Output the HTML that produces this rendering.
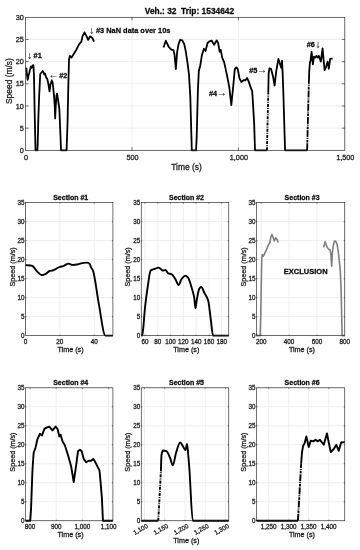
<!DOCTYPE html>
<html><head><meta charset="utf-8"><title>Veh.: 32 Trip: 1534642</title>
<style>
html,body{margin:0;padding:0;background:#fff;}
svg{display:block;font-family:"Liberation Sans",sans-serif;fill:#1a1a1a;}
svg text{stroke:#1a1a1a;stroke-width:0.28px;}
svg text.ar{stroke:#222;stroke-width:0.12px;fill:#222;}
</style></head><body>
<svg width="360" height="550" viewBox="0 0 360 550">
<rect width="360" height="550" fill="#fff"/>
<line x1="25.60" y1="17.3" x2="25.60" y2="150.3" stroke="#eeeeee" stroke-width="1"/>
<line x1="132.00" y1="17.3" x2="132.00" y2="150.3" stroke="#eeeeee" stroke-width="1"/>
<line x1="238.40" y1="17.3" x2="238.40" y2="150.3" stroke="#eeeeee" stroke-width="1"/>
<line x1="344.80" y1="17.3" x2="344.80" y2="150.3" stroke="#eeeeee" stroke-width="1"/>
<line x1="25.6" y1="150.30" x2="344.8" y2="150.30" stroke="#eeeeee" stroke-width="1"/>
<line x1="25.6" y1="128.13" x2="344.8" y2="128.13" stroke="#eeeeee" stroke-width="1"/>
<line x1="25.6" y1="105.97" x2="344.8" y2="105.97" stroke="#eeeeee" stroke-width="1"/>
<line x1="25.6" y1="83.80" x2="344.8" y2="83.80" stroke="#eeeeee" stroke-width="1"/>
<line x1="25.6" y1="61.63" x2="344.8" y2="61.63" stroke="#eeeeee" stroke-width="1"/>
<line x1="25.6" y1="39.47" x2="344.8" y2="39.47" stroke="#eeeeee" stroke-width="1"/>
<line x1="25.6" y1="17.30" x2="344.8" y2="17.30" stroke="#eeeeee" stroke-width="1"/>
<clipPath id="c25_17"><rect x="24.6" y="16.3" width="321.2" height="135.5"/></clipPath>
<g clip-path="url(#c25_17)" fill="none" stroke="#000" stroke-width="1.8" stroke-linejoin="round" stroke-linecap="butt">
<polyline points="25.60,68.06 26.41,68.73 27.03,75.38 27.64,79.81 28.11,78.26 28.58,74.93 29.05,74.05 29.83,70.06 30.28,69.17 30.92,66.29 31.45,67.84 32.01,67.40 32.79,65.40 33.26,65.18 33.56,66.95 33.73,70.94 33.94,74.05 34.67,112.62 35.50,150.30 36.45,150.30 37.37,150.30 37.69,144.09 38.37,117.49 39.22,94.44 40.22,74.49 40.88,73.16 41.73,72.27 42.73,70.94 43.58,72.27 44.24,74.49 45.09,73.60 46.09,77.59 47.18,78.48 48.45,84.24 49.54,91.34 50.54,84.24 51.80,80.25 52.65,82.47 53.90,94.44 54.75,105.97 55.16,118.38 55.58,109.07 56.41,95.77 57.09,93.55 58.09,100.20 59.37,109.07 60.20,129.46 61.03,150.30 66.56,150.30 67.52,123.70 68.27,88.23 69.01,59.42 69.86,55.87 71.35,57.64 73.91,53.65 76.37,49.66 78.80,44.79 81.35,41.68 82.63,35.92 84.55,32.37 86.38,35.92 88.16,39.91 90.08,36.36 92.12,37.69 94.12,41.68"/>
<polyline points="163.49,47.45 165.84,40.80 168.81,47.00 171.37,49.66 173.50,50.11 174.56,54.98 175.84,69.17 177.11,52.32 178.39,44.79 180.09,39.91 182.22,40.35 184.14,43.90 185.63,50.55 187.33,61.63 189.03,74.93 190.31,97.10 191.80,150.30 196.05,150.30 196.69,137.00 197.86,91.34 198.82,70.94 200.31,65.18 201.93,54.98 203.93,48.78 205.56,50.99 207.54,43.01 209.63,41.24 211.59,40.58 214.08,44.79 216.69,40.35 218.14,43.01 219.67,51.88 220.74,49.89 222.18,57.64 224.14,62.08 226.65,73.60 229.25,86.90 231.31,105.08 233.29,85.57 234.78,69.17 236.38,67.40 237.76,69.17 239.42,78.04 241.38,82.03 243.46,80.25 245.42,80.25 247.12,78.04 248.53,81.14 250.53,86.90 252.19,91.34 252.59,97.10 254.15,123.26 255.00,150.30 266.92,150.30"/>
<polyline points="266.92,150.30 268.30,92.67" stroke-dasharray="3 1.1 1 1.1"/>
<polyline points="268.30,92.67 268.62,73.60 269.47,68.28 271.17,69.17 273.09,76.71 274.58,85.57 276.28,70.94 278.41,58.97 280.11,64.29 281.17,67.84 282.02,60.75 282.66,73.60 283.30,91.34 285.05,150.30 307.13,150.30"/>
<polyline points="307.13,150.30 308.84,83.80" stroke-dasharray="7 0.9 2.5 0.9 1 0.9"/>
<polyline points="308.84,83.80 309.26,70.94 309.90,62.52 310.54,60.75 311.60,51.88 312.88,64.29 313.94,56.76 315.22,57.64 316.50,55.87 317.56,57.64 318.84,55.87 320.86,61.63 322.58,48.33 323.52,58.97 324.58,70.06 326.18,66.51 327.56,61.63 328.84,68.73 330.12,58.97 331.82,58.53 332.67,58.53"/>
</g>
<rect x="25.6" y="17.3" width="319.2" height="133.0" fill="none" stroke="#262626" stroke-width="0.65"/>
<line x1="132.00" y1="150.3" x2="132.00" y2="147.3" stroke="#262626" stroke-width="0.65"/>
<line x1="132.00" y1="17.3" x2="132.00" y2="20.3" stroke="#262626" stroke-width="0.65"/>
<line x1="238.40" y1="150.3" x2="238.40" y2="147.3" stroke="#262626" stroke-width="0.65"/>
<line x1="238.40" y1="17.3" x2="238.40" y2="20.3" stroke="#262626" stroke-width="0.65"/>
<line x1="25.6" y1="128.13" x2="28.6" y2="128.13" stroke="#262626" stroke-width="0.65"/>
<line x1="344.8" y1="128.13" x2="341.8" y2="128.13" stroke="#262626" stroke-width="0.65"/>
<line x1="25.6" y1="105.97" x2="28.6" y2="105.97" stroke="#262626" stroke-width="0.65"/>
<line x1="344.8" y1="105.97" x2="341.8" y2="105.97" stroke="#262626" stroke-width="0.65"/>
<line x1="25.6" y1="83.80" x2="28.6" y2="83.80" stroke="#262626" stroke-width="0.65"/>
<line x1="344.8" y1="83.80" x2="341.8" y2="83.80" stroke="#262626" stroke-width="0.65"/>
<line x1="25.6" y1="61.63" x2="28.6" y2="61.63" stroke="#262626" stroke-width="0.65"/>
<line x1="344.8" y1="61.63" x2="341.8" y2="61.63" stroke="#262626" stroke-width="0.65"/>
<line x1="25.6" y1="39.47" x2="28.6" y2="39.47" stroke="#262626" stroke-width="0.65"/>
<line x1="344.8" y1="39.47" x2="341.8" y2="39.47" stroke="#262626" stroke-width="0.65"/>
<text x="26.10" y="159.93" text-anchor="middle" font-size="7.3">0</text>
<text x="132.50" y="159.93" text-anchor="middle" font-size="7.3">500</text>
<text x="238.90" y="159.93" text-anchor="middle" font-size="7.3">1,000</text>
<text x="345.30" y="159.93" text-anchor="middle" font-size="7.3">1,500</text>
<text x="23.80" y="152.91" text-anchor="end" font-size="7.3">0</text>
<text x="23.80" y="130.75" text-anchor="end" font-size="7.3">5</text>
<text x="23.80" y="108.58" text-anchor="end" font-size="7.3">10</text>
<text x="23.80" y="86.41" text-anchor="end" font-size="7.3">15</text>
<text x="23.80" y="64.25" text-anchor="end" font-size="7.3">20</text>
<text x="23.80" y="42.08" text-anchor="end" font-size="7.3">25</text>
<text x="23.80" y="19.91" text-anchor="end" font-size="7.3">30</text>
<text x="186.50" y="170.4" text-anchor="middle" font-size="8.45">Time (s)</text>
<text transform="translate(12.0,81.10) rotate(-90)" text-anchor="middle" font-size="8.45">Speed (m/s)</text>
<text x="189.50" y="14.10" text-anchor="middle" font-size="8.4" font-weight="bold" fill="#000" xml:space="preserve">Veh.: 32  Trip: 1534642</text>
<text x="27.15" y="58.5" font-size="10" class="ar">↓</text>
<text x="33.6" y="57.6" font-size="7.3" font-weight="bold" fill="#000" xml:space="preserve">#1</text>
<text x="48.5" y="77.8" font-size="10" class="ar">←</text>
<text x="59.3" y="77.8" font-size="7.3" font-weight="bold" fill="#000" xml:space="preserve">#2</text>
<text x="89.15" y="33.9" font-size="10" class="ar">↓</text>
<text x="96.0" y="33.0" font-size="7.4" font-weight="bold" fill="#000" xml:space="preserve">#3 NaN data over 10s</text>
<text x="209.0" y="95.6" font-size="7.3" font-weight="bold" fill="#000" xml:space="preserve">#4</text>
<text x="216.7" y="96.0" font-size="10" class="ar">→</text>
<text x="249.3" y="73.3" font-size="7.3" font-weight="bold" fill="#000" xml:space="preserve">#5</text>
<text x="257.1" y="73.4" font-size="10" class="ar">→</text>
<text x="306.8" y="46.7" font-size="7.3" font-weight="bold" fill="#000" xml:space="preserve">#6</text>
<text x="315.55" y="47.6" font-size="10" class="ar">↓</text>
<line x1="25.50" y1="202.6" x2="25.50" y2="335.65" stroke="#eeeeee" stroke-width="1"/>
<line x1="59.88" y1="202.6" x2="59.88" y2="335.65" stroke="#eeeeee" stroke-width="1"/>
<line x1="94.25" y1="202.6" x2="94.25" y2="335.65" stroke="#eeeeee" stroke-width="1"/>
<line x1="25.5" y1="335.65" x2="112.9" y2="335.65" stroke="#eeeeee" stroke-width="1"/>
<line x1="25.5" y1="316.64" x2="112.9" y2="316.64" stroke="#eeeeee" stroke-width="1"/>
<line x1="25.5" y1="297.64" x2="112.9" y2="297.64" stroke="#eeeeee" stroke-width="1"/>
<line x1="25.5" y1="278.63" x2="112.9" y2="278.63" stroke="#eeeeee" stroke-width="1"/>
<line x1="25.5" y1="259.62" x2="112.9" y2="259.62" stroke="#eeeeee" stroke-width="1"/>
<line x1="25.5" y1="240.61" x2="112.9" y2="240.61" stroke="#eeeeee" stroke-width="1"/>
<line x1="25.5" y1="221.61" x2="112.9" y2="221.61" stroke="#eeeeee" stroke-width="1"/>
<line x1="25.5" y1="202.60" x2="112.9" y2="202.60" stroke="#eeeeee" stroke-width="1"/>
<clipPath id="c25_202"><rect x="24.5" y="201.6" width="89.4" height="135.54999999999998"/></clipPath>
<g clip-path="url(#c25_202)" fill="none" stroke="#000" stroke-width="1.9" stroke-linejoin="round" stroke-linecap="butt">
<path d="M25.50,265.13 C27.68,265.32 29.85,265.34 32.03,265.70 C33.69,265.98 35.35,269.89 37.02,271.41 C38.68,272.93 40.34,275.21 42.00,275.21 C43.26,275.21 44.52,274.48 45.78,273.88 C47.04,273.27 48.30,271.43 49.56,271.03 C50.82,270.63 52.08,270.62 53.34,270.27 C55.46,269.67 57.58,267.46 59.70,266.84 C60.91,266.49 62.11,266.43 63.31,266.08 C65.03,265.59 66.75,263.61 68.47,263.61 C69.90,263.61 71.33,264.94 72.77,264.94 C74.26,264.94 75.75,264.75 77.24,264.56 C79.36,264.30 81.47,263.02 83.59,262.85 C84.86,262.75 86.12,262.66 87.38,262.66 C88.18,262.66 88.98,263.33 89.78,264.18 C90.24,264.67 90.70,266.72 91.16,267.60 C91.73,268.71 92.30,269.00 92.88,270.27 C94.82,274.56 96.77,293.18 98.72,303.34 C100.95,314.99 103.19,335.65 105.42,335.65 C107.92,335.65 110.41,335.65 112.90,335.65"/>
</g>
<rect x="25.5" y="202.6" width="87.4" height="133.04999999999998" fill="none" stroke="#262626" stroke-width="0.65"/>
<line x1="59.88" y1="335.65" x2="59.88" y2="334.65" stroke="#262626" stroke-width="0.65"/>
<line x1="59.88" y1="202.6" x2="59.88" y2="203.6" stroke="#262626" stroke-width="0.65"/>
<line x1="94.25" y1="335.65" x2="94.25" y2="334.65" stroke="#262626" stroke-width="0.65"/>
<line x1="94.25" y1="202.6" x2="94.25" y2="203.6" stroke="#262626" stroke-width="0.65"/>
<line x1="25.5" y1="316.64" x2="26.5" y2="316.64" stroke="#262626" stroke-width="0.65"/>
<line x1="112.9" y1="316.64" x2="111.9" y2="316.64" stroke="#262626" stroke-width="0.65"/>
<line x1="25.5" y1="297.64" x2="26.5" y2="297.64" stroke="#262626" stroke-width="0.65"/>
<line x1="112.9" y1="297.64" x2="111.9" y2="297.64" stroke="#262626" stroke-width="0.65"/>
<line x1="25.5" y1="278.63" x2="26.5" y2="278.63" stroke="#262626" stroke-width="0.65"/>
<line x1="112.9" y1="278.63" x2="111.9" y2="278.63" stroke="#262626" stroke-width="0.65"/>
<line x1="25.5" y1="259.62" x2="26.5" y2="259.62" stroke="#262626" stroke-width="0.65"/>
<line x1="112.9" y1="259.62" x2="111.9" y2="259.62" stroke="#262626" stroke-width="0.65"/>
<line x1="25.5" y1="240.61" x2="26.5" y2="240.61" stroke="#262626" stroke-width="0.65"/>
<line x1="112.9" y1="240.61" x2="111.9" y2="240.61" stroke="#262626" stroke-width="0.65"/>
<line x1="25.5" y1="221.61" x2="26.5" y2="221.61" stroke="#262626" stroke-width="0.65"/>
<line x1="112.9" y1="221.61" x2="111.9" y2="221.61" stroke="#262626" stroke-width="0.65"/>
<text x="25.50" y="344.06" text-anchor="middle" font-size="6.3">0</text>
<text x="59.88" y="344.06" text-anchor="middle" font-size="6.3">20</text>
<text x="94.25" y="344.06" text-anchor="middle" font-size="6.3">40</text>
<text x="24.60" y="337.91" text-anchor="end" font-size="6.3">0</text>
<text x="24.60" y="318.90" text-anchor="end" font-size="6.3">5</text>
<text x="24.60" y="299.89" text-anchor="end" font-size="6.3">10</text>
<text x="24.60" y="280.88" text-anchor="end" font-size="6.3">15</text>
<text x="24.60" y="261.88" text-anchor="end" font-size="6.3">20</text>
<text x="24.60" y="242.87" text-anchor="end" font-size="6.3">25</text>
<text x="24.60" y="223.86" text-anchor="end" font-size="6.3">30</text>
<text x="24.60" y="204.86" text-anchor="end" font-size="6.3">35</text>
<text x="70.50" y="351.7" text-anchor="middle" font-size="7.2">Time (s)</text>
<text transform="translate(14.6,266.93) rotate(-90)" text-anchor="middle" font-size="7.2">Speed (m/s)</text>
<text x="70.70" y="199.90" text-anchor="middle" font-size="7.0" font-weight="bold" fill="#000" xml:space="preserve">Section #1</text>
<line x1="145.02" y1="202.6" x2="145.02" y2="335.65" stroke="#eeeeee" stroke-width="1"/>
<line x1="157.80" y1="202.6" x2="157.80" y2="335.65" stroke="#eeeeee" stroke-width="1"/>
<line x1="170.59" y1="202.6" x2="170.59" y2="335.65" stroke="#eeeeee" stroke-width="1"/>
<line x1="183.37" y1="202.6" x2="183.37" y2="335.65" stroke="#eeeeee" stroke-width="1"/>
<line x1="196.15" y1="202.6" x2="196.15" y2="335.65" stroke="#eeeeee" stroke-width="1"/>
<line x1="208.94" y1="202.6" x2="208.94" y2="335.65" stroke="#eeeeee" stroke-width="1"/>
<line x1="221.72" y1="202.6" x2="221.72" y2="335.65" stroke="#eeeeee" stroke-width="1"/>
<line x1="141.25" y1="335.65" x2="228.75" y2="335.65" stroke="#eeeeee" stroke-width="1"/>
<line x1="141.25" y1="316.64" x2="228.75" y2="316.64" stroke="#eeeeee" stroke-width="1"/>
<line x1="141.25" y1="297.64" x2="228.75" y2="297.64" stroke="#eeeeee" stroke-width="1"/>
<line x1="141.25" y1="278.63" x2="228.75" y2="278.63" stroke="#eeeeee" stroke-width="1"/>
<line x1="141.25" y1="259.62" x2="228.75" y2="259.62" stroke="#eeeeee" stroke-width="1"/>
<line x1="141.25" y1="240.61" x2="228.75" y2="240.61" stroke="#eeeeee" stroke-width="1"/>
<line x1="141.25" y1="221.61" x2="228.75" y2="221.61" stroke="#eeeeee" stroke-width="1"/>
<line x1="141.25" y1="202.60" x2="228.75" y2="202.60" stroke="#eeeeee" stroke-width="1"/>
<clipPath id="c141_202"><rect x="140.25" y="201.6" width="89.5" height="135.54999999999998"/></clipPath>
<g clip-path="url(#c141_202)" fill="none" stroke="#000" stroke-width="1.9" stroke-linejoin="round" stroke-linecap="butt">
<path d="M141.25,335.65 C141.51,335.65 141.76,335.65 142.02,335.65 C142.34,335.65 142.66,332.60 142.98,330.33 C143.66,325.47 144.34,313.79 145.02,307.52 C145.87,299.68 146.73,293.36 147.58,287.75 C148.58,281.16 149.58,271.64 150.58,270.65 C151.24,269.99 151.90,269.77 152.56,269.51 C153.42,269.17 154.27,269.03 155.12,268.74 C156.12,268.41 157.12,267.60 158.12,267.60 C158.98,267.60 159.83,268.22 160.68,268.74 C161.34,269.15 162.00,270.65 162.66,270.65 C163.51,270.65 164.37,269.89 165.22,269.89 C166.22,269.89 167.22,272.92 168.22,273.31 C169.31,273.73 170.40,273.65 171.48,274.07 C172.76,274.56 174.04,277.05 175.32,279.01 C176.40,280.67 177.49,285.09 178.58,285.09 C179.58,285.09 180.58,280.28 181.58,279.01 C182.84,277.41 184.09,275.59 185.35,275.59 C186.20,275.59 187.06,276.53 187.91,277.49 C189.17,278.90 190.42,283.69 191.68,287.75 C192.53,290.50 193.38,292.84 194.24,297.64 C194.64,299.91 195.05,308.28 195.45,308.28 C195.88,308.28 196.30,302.58 196.73,300.30 C197.56,295.83 198.39,290.15 199.22,288.89 C199.90,287.86 200.58,286.99 201.27,286.99 C202.27,286.99 203.27,290.75 204.27,292.69 C205.55,295.17 206.83,296.18 208.11,300.30 C208.94,302.97 209.77,311.89 210.60,317.78 C211.43,323.67 212.26,335.65 213.09,335.65 C218.31,335.65 223.53,335.65 228.75,335.65"/>
</g>
<rect x="141.25" y="202.6" width="87.5" height="133.04999999999998" fill="none" stroke="#262626" stroke-width="0.65"/>
<line x1="145.02" y1="335.65" x2="145.02" y2="334.65" stroke="#262626" stroke-width="0.65"/>
<line x1="145.02" y1="202.6" x2="145.02" y2="203.6" stroke="#262626" stroke-width="0.65"/>
<line x1="157.80" y1="335.65" x2="157.80" y2="334.65" stroke="#262626" stroke-width="0.65"/>
<line x1="157.80" y1="202.6" x2="157.80" y2="203.6" stroke="#262626" stroke-width="0.65"/>
<line x1="170.59" y1="335.65" x2="170.59" y2="334.65" stroke="#262626" stroke-width="0.65"/>
<line x1="170.59" y1="202.6" x2="170.59" y2="203.6" stroke="#262626" stroke-width="0.65"/>
<line x1="183.37" y1="335.65" x2="183.37" y2="334.65" stroke="#262626" stroke-width="0.65"/>
<line x1="183.37" y1="202.6" x2="183.37" y2="203.6" stroke="#262626" stroke-width="0.65"/>
<line x1="196.15" y1="335.65" x2="196.15" y2="334.65" stroke="#262626" stroke-width="0.65"/>
<line x1="196.15" y1="202.6" x2="196.15" y2="203.6" stroke="#262626" stroke-width="0.65"/>
<line x1="208.94" y1="335.65" x2="208.94" y2="334.65" stroke="#262626" stroke-width="0.65"/>
<line x1="208.94" y1="202.6" x2="208.94" y2="203.6" stroke="#262626" stroke-width="0.65"/>
<line x1="221.72" y1="335.65" x2="221.72" y2="334.65" stroke="#262626" stroke-width="0.65"/>
<line x1="221.72" y1="202.6" x2="221.72" y2="203.6" stroke="#262626" stroke-width="0.65"/>
<line x1="141.25" y1="316.64" x2="142.25" y2="316.64" stroke="#262626" stroke-width="0.65"/>
<line x1="228.75" y1="316.64" x2="227.75" y2="316.64" stroke="#262626" stroke-width="0.65"/>
<line x1="141.25" y1="297.64" x2="142.25" y2="297.64" stroke="#262626" stroke-width="0.65"/>
<line x1="228.75" y1="297.64" x2="227.75" y2="297.64" stroke="#262626" stroke-width="0.65"/>
<line x1="141.25" y1="278.63" x2="142.25" y2="278.63" stroke="#262626" stroke-width="0.65"/>
<line x1="228.75" y1="278.63" x2="227.75" y2="278.63" stroke="#262626" stroke-width="0.65"/>
<line x1="141.25" y1="259.62" x2="142.25" y2="259.62" stroke="#262626" stroke-width="0.65"/>
<line x1="228.75" y1="259.62" x2="227.75" y2="259.62" stroke="#262626" stroke-width="0.65"/>
<line x1="141.25" y1="240.61" x2="142.25" y2="240.61" stroke="#262626" stroke-width="0.65"/>
<line x1="228.75" y1="240.61" x2="227.75" y2="240.61" stroke="#262626" stroke-width="0.65"/>
<line x1="141.25" y1="221.61" x2="142.25" y2="221.61" stroke="#262626" stroke-width="0.65"/>
<line x1="228.75" y1="221.61" x2="227.75" y2="221.61" stroke="#262626" stroke-width="0.65"/>
<text x="145.02" y="344.06" text-anchor="middle" font-size="6.3">60</text>
<text x="157.80" y="344.06" text-anchor="middle" font-size="6.3">80</text>
<text x="170.59" y="344.06" text-anchor="middle" font-size="6.3">100</text>
<text x="183.37" y="344.06" text-anchor="middle" font-size="6.3">120</text>
<text x="196.15" y="344.06" text-anchor="middle" font-size="6.3">140</text>
<text x="208.94" y="344.06" text-anchor="middle" font-size="6.3">160</text>
<text x="221.72" y="344.06" text-anchor="middle" font-size="6.3">180</text>
<text x="140.35" y="337.91" text-anchor="end" font-size="6.3">0</text>
<text x="140.35" y="318.90" text-anchor="end" font-size="6.3">5</text>
<text x="140.35" y="299.89" text-anchor="end" font-size="6.3">10</text>
<text x="140.35" y="280.88" text-anchor="end" font-size="6.3">15</text>
<text x="140.35" y="261.88" text-anchor="end" font-size="6.3">20</text>
<text x="140.35" y="242.87" text-anchor="end" font-size="6.3">25</text>
<text x="140.35" y="223.86" text-anchor="end" font-size="6.3">30</text>
<text x="140.35" y="204.86" text-anchor="end" font-size="6.3">35</text>
<text x="186.30" y="351.7" text-anchor="middle" font-size="7.2">Time (s)</text>
<text transform="translate(130.4,266.93) rotate(-90)" text-anchor="middle" font-size="7.2">Speed (m/s)</text>
<text x="186.50" y="199.90" text-anchor="middle" font-size="7.0" font-weight="bold" fill="#000" xml:space="preserve">Section #2</text>
<line x1="261.23" y1="202.6" x2="261.23" y2="335.65" stroke="#eeeeee" stroke-width="1"/>
<line x1="289.07" y1="202.6" x2="289.07" y2="335.65" stroke="#eeeeee" stroke-width="1"/>
<line x1="316.91" y1="202.6" x2="316.91" y2="335.65" stroke="#eeeeee" stroke-width="1"/>
<line x1="344.75" y1="202.6" x2="344.75" y2="335.65" stroke="#eeeeee" stroke-width="1"/>
<line x1="256.5" y1="335.65" x2="344.75" y2="335.65" stroke="#eeeeee" stroke-width="1"/>
<line x1="256.5" y1="316.64" x2="344.75" y2="316.64" stroke="#eeeeee" stroke-width="1"/>
<line x1="256.5" y1="297.64" x2="344.75" y2="297.64" stroke="#eeeeee" stroke-width="1"/>
<line x1="256.5" y1="278.63" x2="344.75" y2="278.63" stroke="#eeeeee" stroke-width="1"/>
<line x1="256.5" y1="259.62" x2="344.75" y2="259.62" stroke="#eeeeee" stroke-width="1"/>
<line x1="256.5" y1="240.61" x2="344.75" y2="240.61" stroke="#eeeeee" stroke-width="1"/>
<line x1="256.5" y1="221.61" x2="344.75" y2="221.61" stroke="#eeeeee" stroke-width="1"/>
<line x1="256.5" y1="202.60" x2="344.75" y2="202.60" stroke="#eeeeee" stroke-width="1"/>
<clipPath id="c256_202"><rect x="255.5" y="201.6" width="90.25" height="135.54999999999998"/></clipPath>
<g clip-path="url(#c256_202)" fill="none" stroke="#7f7f7f" stroke-width="1.6" stroke-linejoin="round" stroke-linecap="butt">
<polyline points="256.50,333.36 256.57,335.65 260.19,335.65 260.82,312.84 261.30,282.43 261.79,257.72 262.35,254.68 263.32,256.20 264.99,252.78 266.61,249.36 268.19,245.18 269.86,242.51 270.70,237.57 271.95,234.53 273.15,237.57 274.32,240.99 275.57,237.95 276.91,239.09 278.21,242.51"/>
<polyline points="323.59,247.46 325.12,241.75 327.07,247.08 328.74,249.36 330.13,249.74 330.83,253.92 331.67,266.08 332.50,251.64 333.34,245.18 334.45,240.99 335.84,241.37 337.09,244.42 338.07,250.12 339.18,259.62 340.30,271.03 341.13,290.03 342.11,335.65 344.75,335.65"/>
</g>
<rect x="256.5" y="202.6" width="88.25" height="133.04999999999998" fill="none" stroke="#262626" stroke-width="0.65"/>
<line x1="261.23" y1="335.65" x2="261.23" y2="334.65" stroke="#262626" stroke-width="0.65"/>
<line x1="261.23" y1="202.6" x2="261.23" y2="203.6" stroke="#262626" stroke-width="0.65"/>
<line x1="289.07" y1="335.65" x2="289.07" y2="334.65" stroke="#262626" stroke-width="0.65"/>
<line x1="289.07" y1="202.6" x2="289.07" y2="203.6" stroke="#262626" stroke-width="0.65"/>
<line x1="316.91" y1="335.65" x2="316.91" y2="334.65" stroke="#262626" stroke-width="0.65"/>
<line x1="316.91" y1="202.6" x2="316.91" y2="203.6" stroke="#262626" stroke-width="0.65"/>
<line x1="256.5" y1="316.64" x2="257.5" y2="316.64" stroke="#262626" stroke-width="0.65"/>
<line x1="344.75" y1="316.64" x2="343.75" y2="316.64" stroke="#262626" stroke-width="0.65"/>
<line x1="256.5" y1="297.64" x2="257.5" y2="297.64" stroke="#262626" stroke-width="0.65"/>
<line x1="344.75" y1="297.64" x2="343.75" y2="297.64" stroke="#262626" stroke-width="0.65"/>
<line x1="256.5" y1="278.63" x2="257.5" y2="278.63" stroke="#262626" stroke-width="0.65"/>
<line x1="344.75" y1="278.63" x2="343.75" y2="278.63" stroke="#262626" stroke-width="0.65"/>
<line x1="256.5" y1="259.62" x2="257.5" y2="259.62" stroke="#262626" stroke-width="0.65"/>
<line x1="344.75" y1="259.62" x2="343.75" y2="259.62" stroke="#262626" stroke-width="0.65"/>
<line x1="256.5" y1="240.61" x2="257.5" y2="240.61" stroke="#262626" stroke-width="0.65"/>
<line x1="344.75" y1="240.61" x2="343.75" y2="240.61" stroke="#262626" stroke-width="0.65"/>
<line x1="256.5" y1="221.61" x2="257.5" y2="221.61" stroke="#262626" stroke-width="0.65"/>
<line x1="344.75" y1="221.61" x2="343.75" y2="221.61" stroke="#262626" stroke-width="0.65"/>
<text x="261.23" y="344.06" text-anchor="middle" font-size="6.3">200</text>
<text x="289.07" y="344.06" text-anchor="middle" font-size="6.3">400</text>
<text x="316.91" y="344.06" text-anchor="middle" font-size="6.3">600</text>
<text x="344.75" y="344.06" text-anchor="middle" font-size="6.3">800</text>
<text x="255.60" y="337.91" text-anchor="end" font-size="6.3">0</text>
<text x="255.60" y="318.90" text-anchor="end" font-size="6.3">5</text>
<text x="255.60" y="299.89" text-anchor="end" font-size="6.3">10</text>
<text x="255.60" y="280.88" text-anchor="end" font-size="6.3">15</text>
<text x="255.60" y="261.88" text-anchor="end" font-size="6.3">20</text>
<text x="255.60" y="242.87" text-anchor="end" font-size="6.3">25</text>
<text x="255.60" y="223.86" text-anchor="end" font-size="6.3">30</text>
<text x="255.60" y="204.86" text-anchor="end" font-size="6.3">35</text>
<text x="301.93" y="351.7" text-anchor="middle" font-size="7.2">Time (s)</text>
<text transform="translate(245.6,266.93) rotate(-90)" text-anchor="middle" font-size="7.2">Speed (m/s)</text>
<text x="302.12" y="199.90" text-anchor="middle" font-size="7.0" font-weight="bold" fill="#000" xml:space="preserve">Section #3</text>
<text x="305.7" y="274" text-anchor="middle" font-size="7.5" font-weight="bold" fill="#000">EXCLUSION</text>
<line x1="29.96" y1="387.8" x2="29.96" y2="520.75" stroke="#eeeeee" stroke-width="1"/>
<line x1="56.21" y1="387.8" x2="56.21" y2="520.75" stroke="#eeeeee" stroke-width="1"/>
<line x1="82.45" y1="387.8" x2="82.45" y2="520.75" stroke="#eeeeee" stroke-width="1"/>
<line x1="108.70" y1="387.8" x2="108.70" y2="520.75" stroke="#eeeeee" stroke-width="1"/>
<line x1="25.5" y1="520.75" x2="112.9" y2="520.75" stroke="#eeeeee" stroke-width="1"/>
<line x1="25.5" y1="501.76" x2="112.9" y2="501.76" stroke="#eeeeee" stroke-width="1"/>
<line x1="25.5" y1="482.76" x2="112.9" y2="482.76" stroke="#eeeeee" stroke-width="1"/>
<line x1="25.5" y1="463.77" x2="112.9" y2="463.77" stroke="#eeeeee" stroke-width="1"/>
<line x1="25.5" y1="444.78" x2="112.9" y2="444.78" stroke="#eeeeee" stroke-width="1"/>
<line x1="25.5" y1="425.79" x2="112.9" y2="425.79" stroke="#eeeeee" stroke-width="1"/>
<line x1="25.5" y1="406.79" x2="112.9" y2="406.79" stroke="#eeeeee" stroke-width="1"/>
<line x1="25.5" y1="387.80" x2="112.9" y2="387.80" stroke="#eeeeee" stroke-width="1"/>
<clipPath id="c25_387"><rect x="24.5" y="386.8" width="89.4" height="135.45"/></clipPath>
<g clip-path="url(#c25_387)" fill="none" stroke="#000" stroke-width="1.9" stroke-linejoin="round" stroke-linecap="butt">
<polyline points="25.50,520.75 30.22,520.75 31.01,509.35 32.46,470.23 33.64,452.76 35.47,447.82 37.47,439.08 39.94,433.76 41.96,435.66 44.40,428.82 46.97,427.31 49.38,426.74 52.45,430.34 55.68,426.55 57.47,428.82 59.36,436.42 60.67,434.71 62.45,441.36 64.87,445.16 67.97,455.03 71.17,466.43 73.71,482.00 76.16,465.29 77.99,451.24 79.96,449.72 81.67,451.24 83.71,458.83 86.13,462.25 88.70,460.73 91.12,460.73 93.22,458.83 94.95,461.49 97.41,466.43 99.46,470.23 99.96,475.17 101.88,497.58 102.93,520.75 112.90,520.75"/>
</g>
<rect x="25.5" y="387.8" width="87.4" height="132.95" fill="none" stroke="#262626" stroke-width="0.65"/>
<line x1="29.96" y1="520.75" x2="29.96" y2="519.75" stroke="#262626" stroke-width="0.65"/>
<line x1="29.96" y1="387.8" x2="29.96" y2="388.8" stroke="#262626" stroke-width="0.65"/>
<line x1="56.21" y1="520.75" x2="56.21" y2="519.75" stroke="#262626" stroke-width="0.65"/>
<line x1="56.21" y1="387.8" x2="56.21" y2="388.8" stroke="#262626" stroke-width="0.65"/>
<line x1="82.45" y1="520.75" x2="82.45" y2="519.75" stroke="#262626" stroke-width="0.65"/>
<line x1="82.45" y1="387.8" x2="82.45" y2="388.8" stroke="#262626" stroke-width="0.65"/>
<line x1="108.70" y1="520.75" x2="108.70" y2="519.75" stroke="#262626" stroke-width="0.65"/>
<line x1="108.70" y1="387.8" x2="108.70" y2="388.8" stroke="#262626" stroke-width="0.65"/>
<line x1="25.5" y1="501.76" x2="26.5" y2="501.76" stroke="#262626" stroke-width="0.65"/>
<line x1="112.9" y1="501.76" x2="111.9" y2="501.76" stroke="#262626" stroke-width="0.65"/>
<line x1="25.5" y1="482.76" x2="26.5" y2="482.76" stroke="#262626" stroke-width="0.65"/>
<line x1="112.9" y1="482.76" x2="111.9" y2="482.76" stroke="#262626" stroke-width="0.65"/>
<line x1="25.5" y1="463.77" x2="26.5" y2="463.77" stroke="#262626" stroke-width="0.65"/>
<line x1="112.9" y1="463.77" x2="111.9" y2="463.77" stroke="#262626" stroke-width="0.65"/>
<line x1="25.5" y1="444.78" x2="26.5" y2="444.78" stroke="#262626" stroke-width="0.65"/>
<line x1="112.9" y1="444.78" x2="111.9" y2="444.78" stroke="#262626" stroke-width="0.65"/>
<line x1="25.5" y1="425.79" x2="26.5" y2="425.79" stroke="#262626" stroke-width="0.65"/>
<line x1="112.9" y1="425.79" x2="111.9" y2="425.79" stroke="#262626" stroke-width="0.65"/>
<line x1="25.5" y1="406.79" x2="26.5" y2="406.79" stroke="#262626" stroke-width="0.65"/>
<line x1="112.9" y1="406.79" x2="111.9" y2="406.79" stroke="#262626" stroke-width="0.65"/>
<text x="29.96" y="529.16" text-anchor="middle" font-size="6.3">800</text>
<text x="56.21" y="529.16" text-anchor="middle" font-size="6.3">900</text>
<text x="82.45" y="529.16" text-anchor="middle" font-size="6.3">1,000</text>
<text x="108.70" y="529.16" text-anchor="middle" font-size="6.3">1,100</text>
<text x="24.60" y="523.01" text-anchor="end" font-size="6.3">0</text>
<text x="24.60" y="504.01" text-anchor="end" font-size="6.3">5</text>
<text x="24.60" y="485.02" text-anchor="end" font-size="6.3">10</text>
<text x="24.60" y="466.03" text-anchor="end" font-size="6.3">15</text>
<text x="24.60" y="447.03" text-anchor="end" font-size="6.3">20</text>
<text x="24.60" y="428.04" text-anchor="end" font-size="6.3">25</text>
<text x="24.60" y="409.05" text-anchor="end" font-size="6.3">30</text>
<text x="24.60" y="390.06" text-anchor="end" font-size="6.3">35</text>
<text x="70.50" y="536.7" text-anchor="middle" font-size="7.2">Time (s)</text>
<text transform="translate(14.6,452.07) rotate(-90)" text-anchor="middle" font-size="7.2">Speed (m/s)</text>
<text x="70.70" y="385.10" text-anchor="middle" font-size="7.0" font-weight="bold" fill="#000" xml:space="preserve">Section #4</text>
<line x1="144.49" y1="387.8" x2="144.49" y2="520.75" stroke="#eeeeee" stroke-width="1"/>
<line x1="164.75" y1="387.8" x2="164.75" y2="520.75" stroke="#eeeeee" stroke-width="1"/>
<line x1="185.00" y1="387.8" x2="185.00" y2="520.75" stroke="#eeeeee" stroke-width="1"/>
<line x1="205.25" y1="387.8" x2="205.25" y2="520.75" stroke="#eeeeee" stroke-width="1"/>
<line x1="225.51" y1="387.8" x2="225.51" y2="520.75" stroke="#eeeeee" stroke-width="1"/>
<line x1="141.25" y1="520.75" x2="228.75" y2="520.75" stroke="#eeeeee" stroke-width="1"/>
<line x1="141.25" y1="501.76" x2="228.75" y2="501.76" stroke="#eeeeee" stroke-width="1"/>
<line x1="141.25" y1="482.76" x2="228.75" y2="482.76" stroke="#eeeeee" stroke-width="1"/>
<line x1="141.25" y1="463.77" x2="228.75" y2="463.77" stroke="#eeeeee" stroke-width="1"/>
<line x1="141.25" y1="444.78" x2="228.75" y2="444.78" stroke="#eeeeee" stroke-width="1"/>
<line x1="141.25" y1="425.79" x2="228.75" y2="425.79" stroke="#eeeeee" stroke-width="1"/>
<line x1="141.25" y1="406.79" x2="228.75" y2="406.79" stroke="#eeeeee" stroke-width="1"/>
<line x1="141.25" y1="387.80" x2="228.75" y2="387.80" stroke="#eeeeee" stroke-width="1"/>
<clipPath id="c141_387"><rect x="140.25" y="386.8" width="89.5" height="135.45"/></clipPath>
<g clip-path="url(#c141_387)" fill="none" stroke="#000" stroke-width="1.9" stroke-linejoin="round" stroke-linecap="butt">
<polyline points="141.25,520.75 158.26,520.75"/>
<polyline points="158.26,520.75 160.90,471.37" stroke-dasharray="3 1.1 1 1.1"/>
<path d="M160.90,471.37 C161.10,465.92 161.30,456.21 161.50,455.03 C162.04,451.90 162.58,450.48 163.12,450.48 C164.21,450.48 165.29,450.80 166.37,451.24 C167.58,451.73 168.80,455.08 170.01,457.69 C170.96,459.73 171.90,465.29 172.85,465.29 C173.93,465.29 175.01,456.09 176.09,452.76 C177.44,448.59 178.79,442.50 180.14,442.50 C181.22,442.50 182.30,445.49 183.38,447.06 C184.05,448.04 184.73,450.10 185.41,450.10 C185.95,450.10 186.49,444.02 187.03,444.02 C187.43,444.02 187.84,450.78 188.24,455.03 C188.65,459.29 189.05,464.75 189.46,470.23 C190.56,485.20 191.67,520.75 192.78,520.75 C204.77,520.75 216.76,520.75 228.75,520.75"/>
</g>
<rect x="141.25" y="387.8" width="87.5" height="132.95" fill="none" stroke="#262626" stroke-width="0.65"/>
<line x1="144.49" y1="520.75" x2="144.49" y2="519.75" stroke="#262626" stroke-width="0.65"/>
<line x1="144.49" y1="387.8" x2="144.49" y2="388.8" stroke="#262626" stroke-width="0.65"/>
<line x1="164.75" y1="520.75" x2="164.75" y2="519.75" stroke="#262626" stroke-width="0.65"/>
<line x1="164.75" y1="387.8" x2="164.75" y2="388.8" stroke="#262626" stroke-width="0.65"/>
<line x1="185.00" y1="520.75" x2="185.00" y2="519.75" stroke="#262626" stroke-width="0.65"/>
<line x1="185.00" y1="387.8" x2="185.00" y2="388.8" stroke="#262626" stroke-width="0.65"/>
<line x1="205.25" y1="520.75" x2="205.25" y2="519.75" stroke="#262626" stroke-width="0.65"/>
<line x1="205.25" y1="387.8" x2="205.25" y2="388.8" stroke="#262626" stroke-width="0.65"/>
<line x1="225.51" y1="520.75" x2="225.51" y2="519.75" stroke="#262626" stroke-width="0.65"/>
<line x1="225.51" y1="387.8" x2="225.51" y2="388.8" stroke="#262626" stroke-width="0.65"/>
<line x1="141.25" y1="501.76" x2="142.25" y2="501.76" stroke="#262626" stroke-width="0.65"/>
<line x1="228.75" y1="501.76" x2="227.75" y2="501.76" stroke="#262626" stroke-width="0.65"/>
<line x1="141.25" y1="482.76" x2="142.25" y2="482.76" stroke="#262626" stroke-width="0.65"/>
<line x1="228.75" y1="482.76" x2="227.75" y2="482.76" stroke="#262626" stroke-width="0.65"/>
<line x1="141.25" y1="463.77" x2="142.25" y2="463.77" stroke="#262626" stroke-width="0.65"/>
<line x1="228.75" y1="463.77" x2="227.75" y2="463.77" stroke="#262626" stroke-width="0.65"/>
<line x1="141.25" y1="444.78" x2="142.25" y2="444.78" stroke="#262626" stroke-width="0.65"/>
<line x1="228.75" y1="444.78" x2="227.75" y2="444.78" stroke="#262626" stroke-width="0.65"/>
<line x1="141.25" y1="425.79" x2="142.25" y2="425.79" stroke="#262626" stroke-width="0.65"/>
<line x1="228.75" y1="425.79" x2="227.75" y2="425.79" stroke="#262626" stroke-width="0.65"/>
<line x1="141.25" y1="406.79" x2="142.25" y2="406.79" stroke="#262626" stroke-width="0.65"/>
<line x1="228.75" y1="406.79" x2="227.75" y2="406.79" stroke="#262626" stroke-width="0.65"/>
<text transform="translate(147.29,525.05) rotate(-29)" text-anchor="end" font-size="6.3" dominant-baseline="central">1,100</text>
<text transform="translate(167.55,525.05) rotate(-29)" text-anchor="end" font-size="6.3" dominant-baseline="central">1,150</text>
<text transform="translate(187.80,525.05) rotate(-29)" text-anchor="end" font-size="6.3" dominant-baseline="central">1,200</text>
<text transform="translate(208.05,525.05) rotate(-29)" text-anchor="end" font-size="6.3" dominant-baseline="central">1,250</text>
<text transform="translate(228.31,525.05) rotate(-29)" text-anchor="end" font-size="6.3" dominant-baseline="central">1,300</text>
<text x="140.35" y="523.01" text-anchor="end" font-size="6.3">0</text>
<text x="140.35" y="504.01" text-anchor="end" font-size="6.3">5</text>
<text x="140.35" y="485.02" text-anchor="end" font-size="6.3">10</text>
<text x="140.35" y="466.03" text-anchor="end" font-size="6.3">15</text>
<text x="140.35" y="447.03" text-anchor="end" font-size="6.3">20</text>
<text x="140.35" y="428.04" text-anchor="end" font-size="6.3">25</text>
<text x="140.35" y="409.05" text-anchor="end" font-size="6.3">30</text>
<text x="140.35" y="390.06" text-anchor="end" font-size="6.3">35</text>
<text x="186.30" y="542.6" text-anchor="middle" font-size="7.2">Time (s)</text>
<text transform="translate(130.4,452.07) rotate(-90)" text-anchor="middle" font-size="7.2">Speed (m/s)</text>
<text x="186.50" y="385.10" text-anchor="middle" font-size="7.0" font-weight="bold" fill="#000" xml:space="preserve">Section #5</text>
<line x1="268.74" y1="387.8" x2="268.74" y2="520.75" stroke="#eeeeee" stroke-width="1"/>
<line x1="288.74" y1="387.8" x2="288.74" y2="520.75" stroke="#eeeeee" stroke-width="1"/>
<line x1="308.75" y1="387.8" x2="308.75" y2="520.75" stroke="#eeeeee" stroke-width="1"/>
<line x1="328.75" y1="387.8" x2="328.75" y2="520.75" stroke="#eeeeee" stroke-width="1"/>
<line x1="256.5" y1="520.75" x2="344.75" y2="520.75" stroke="#eeeeee" stroke-width="1"/>
<line x1="256.5" y1="501.76" x2="344.75" y2="501.76" stroke="#eeeeee" stroke-width="1"/>
<line x1="256.5" y1="482.76" x2="344.75" y2="482.76" stroke="#eeeeee" stroke-width="1"/>
<line x1="256.5" y1="463.77" x2="344.75" y2="463.77" stroke="#eeeeee" stroke-width="1"/>
<line x1="256.5" y1="444.78" x2="344.75" y2="444.78" stroke="#eeeeee" stroke-width="1"/>
<line x1="256.5" y1="425.79" x2="344.75" y2="425.79" stroke="#eeeeee" stroke-width="1"/>
<line x1="256.5" y1="406.79" x2="344.75" y2="406.79" stroke="#eeeeee" stroke-width="1"/>
<line x1="256.5" y1="387.80" x2="344.75" y2="387.80" stroke="#eeeeee" stroke-width="1"/>
<clipPath id="c256_387"><rect x="255.5" y="386.8" width="90.25" height="135.45"/></clipPath>
<g clip-path="url(#c256_387)" fill="none" stroke="#000" stroke-width="1.9" stroke-linejoin="round" stroke-linecap="butt">
<polyline points="256.50,520.75 297.94,520.75"/>
<polyline points="297.94,520.75 301.15,463.77" stroke-dasharray="7 0.9 2.5 0.9 1 0.9"/>
<polyline points="301.15,463.77 301.95,452.76 303.15,445.54 304.35,444.02 306.35,436.42 308.75,447.06 310.75,440.60 313.15,441.36 315.55,439.84 317.55,441.36 319.95,439.84 323.75,444.78 326.99,433.38 328.75,442.50 330.75,452.00 333.75,448.96 336.35,444.78 338.75,450.86 341.15,442.50 344.35,442.12 344.75,442.12"/>
</g>
<rect x="256.5" y="387.8" width="88.25" height="132.95" fill="none" stroke="#262626" stroke-width="0.65"/>
<line x1="268.74" y1="520.75" x2="268.74" y2="519.75" stroke="#262626" stroke-width="0.65"/>
<line x1="268.74" y1="387.8" x2="268.74" y2="388.8" stroke="#262626" stroke-width="0.65"/>
<line x1="288.74" y1="520.75" x2="288.74" y2="519.75" stroke="#262626" stroke-width="0.65"/>
<line x1="288.74" y1="387.8" x2="288.74" y2="388.8" stroke="#262626" stroke-width="0.65"/>
<line x1="308.75" y1="520.75" x2="308.75" y2="519.75" stroke="#262626" stroke-width="0.65"/>
<line x1="308.75" y1="387.8" x2="308.75" y2="388.8" stroke="#262626" stroke-width="0.65"/>
<line x1="328.75" y1="520.75" x2="328.75" y2="519.75" stroke="#262626" stroke-width="0.65"/>
<line x1="328.75" y1="387.8" x2="328.75" y2="388.8" stroke="#262626" stroke-width="0.65"/>
<line x1="256.5" y1="501.76" x2="257.5" y2="501.76" stroke="#262626" stroke-width="0.65"/>
<line x1="344.75" y1="501.76" x2="343.75" y2="501.76" stroke="#262626" stroke-width="0.65"/>
<line x1="256.5" y1="482.76" x2="257.5" y2="482.76" stroke="#262626" stroke-width="0.65"/>
<line x1="344.75" y1="482.76" x2="343.75" y2="482.76" stroke="#262626" stroke-width="0.65"/>
<line x1="256.5" y1="463.77" x2="257.5" y2="463.77" stroke="#262626" stroke-width="0.65"/>
<line x1="344.75" y1="463.77" x2="343.75" y2="463.77" stroke="#262626" stroke-width="0.65"/>
<line x1="256.5" y1="444.78" x2="257.5" y2="444.78" stroke="#262626" stroke-width="0.65"/>
<line x1="344.75" y1="444.78" x2="343.75" y2="444.78" stroke="#262626" stroke-width="0.65"/>
<line x1="256.5" y1="425.79" x2="257.5" y2="425.79" stroke="#262626" stroke-width="0.65"/>
<line x1="344.75" y1="425.79" x2="343.75" y2="425.79" stroke="#262626" stroke-width="0.65"/>
<line x1="256.5" y1="406.79" x2="257.5" y2="406.79" stroke="#262626" stroke-width="0.65"/>
<line x1="344.75" y1="406.79" x2="343.75" y2="406.79" stroke="#262626" stroke-width="0.65"/>
<text x="268.74" y="529.16" text-anchor="middle" font-size="6.3">1,250</text>
<text x="288.74" y="529.16" text-anchor="middle" font-size="6.3">1,300</text>
<text x="308.75" y="529.16" text-anchor="middle" font-size="6.3">1,350</text>
<text x="328.75" y="529.16" text-anchor="middle" font-size="6.3">1,400</text>
<text x="255.60" y="523.01" text-anchor="end" font-size="6.3">0</text>
<text x="255.60" y="504.01" text-anchor="end" font-size="6.3">5</text>
<text x="255.60" y="485.02" text-anchor="end" font-size="6.3">10</text>
<text x="255.60" y="466.03" text-anchor="end" font-size="6.3">15</text>
<text x="255.60" y="447.03" text-anchor="end" font-size="6.3">20</text>
<text x="255.60" y="428.04" text-anchor="end" font-size="6.3">25</text>
<text x="255.60" y="409.05" text-anchor="end" font-size="6.3">30</text>
<text x="255.60" y="390.06" text-anchor="end" font-size="6.3">35</text>
<text x="301.93" y="536.7" text-anchor="middle" font-size="7.2">Time (s)</text>
<text transform="translate(245.6,452.07) rotate(-90)" text-anchor="middle" font-size="7.2">Speed (m/s)</text>
<text x="302.12" y="385.10" text-anchor="middle" font-size="7.0" font-weight="bold" fill="#000" xml:space="preserve">Section #6</text>
</svg>
</body></html>
